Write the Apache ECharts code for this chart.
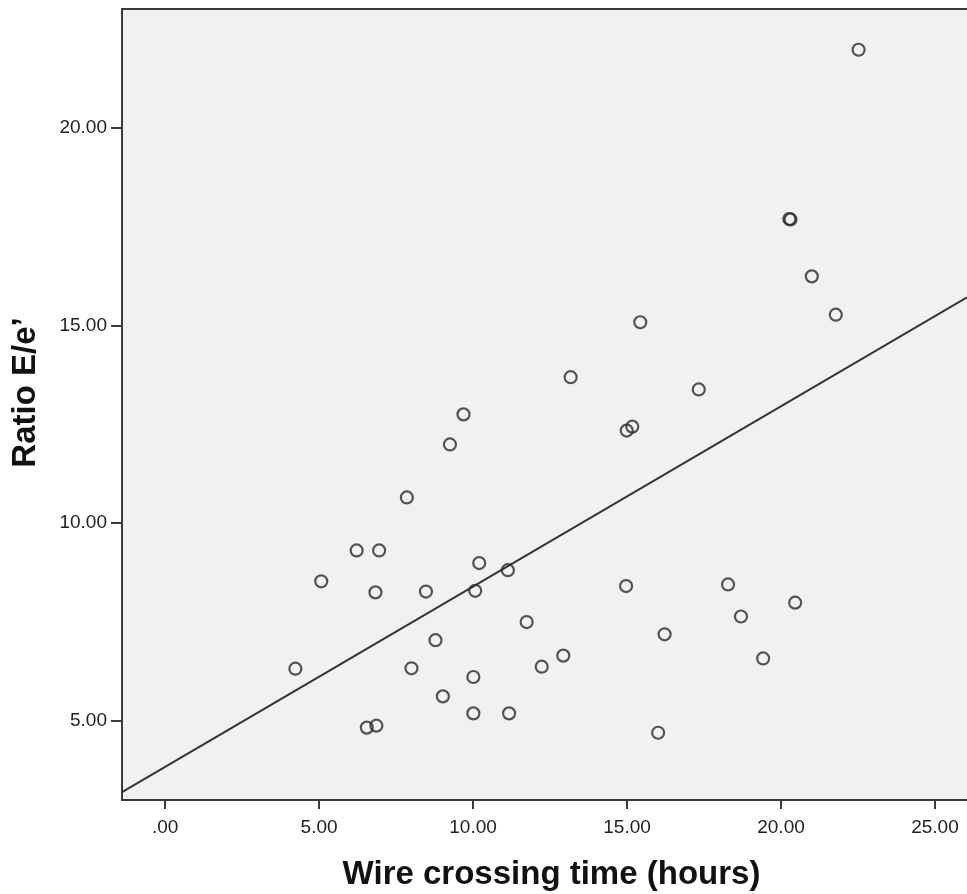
<!DOCTYPE html>
<html>
<head>
<meta charset="utf-8">
<script src="https://cdn.jsdelivr.net/npm/echarts@6/dist/echarts.min.js"></script>
<style>
html, body { margin: 0; padding: 0; background: #fff; }
#chart { width: 967px; height: 894px; }
</style>
</head>
<body>
<div id="chart"></div>
<script>
// wire crossing time (hours) vs ratio E/e'
const crossTime = [
    4.23, 5.07, 6.22, 6.95, 6.83, 6.55, 6.86, 7.85, 8.00, 8.47,
    8.78, 9.02, 9.25, 9.69, 10.01, 10.01, 10.07, 10.20, 11.13, 11.17,
    11.74, 12.23, 12.93, 13.17, 14.97, 14.99, 15.17, 15.43, 16.01, 16.22,
    17.33, 18.28, 18.70, 19.42, 20.27, 20.31, 20.46, 21.00, 21.78, 22.52
];
const ratioEe = [
    6.32, 8.53, 9.31, 9.31, 8.25, 4.83, 4.88, 10.65, 6.33, 8.27,
    7.04, 5.62, 11.99, 12.75, 6.11, 5.19, 8.29, 8.99, 8.81, 5.19,
    7.50, 6.37, 6.65, 13.69, 8.41, 12.34, 12.44, 15.08, 4.70, 7.19,
    13.38, 8.45, 7.64, 6.58, 17.69, 17.68, 7.99, 16.24, 15.27, 21.97
];
// fit line end points
const fitX = [-1.4, 26.04];
const fitY = [3.20, 15.71];

const xTicks = [0, 5, 10, 15, 20, 25];
const yTicks = [5, 10, 15, 20];

const myChart = echarts.init(document.getElementById('chart'));

const axisColor = '#3a3a3a';
const labelFont = 'Liberation Sans, Arial, sans-serif';

const option = {
    backgroundColor: '#fff',
    animation: false,
    grid: {
        left: 122,
        right: 0,
        top: 9,
        bottom: 94,
        containLabel: false,
        outerBoundsMode: 'none',
        show: true,
        backgroundColor: '#f1f1f1',
        borderWidth: 0
    },
    xAxis: [
        {
            type: 'value',
            min: -1.4,
            max: 26.04,
            name: 'Wire crossing time (hours)',
            nameLocation: 'middle',
            nameGap: 58,
            nameTextStyle: {
                fontFamily: labelFont,
                fontWeight: 'bold',
                fontSize: 33,
                color: '#111',
                padding: [0, 0, 0, 14]
            },
            axisLine: { show: true, onZero: false, lineStyle: { color: axisColor, width: 2 } },
            axisTick: { show: true, length: 9, customValues: xTicks, lineStyle: { color: axisColor, width: 2 } },
            axisLabel: {
                customValues: xTicks,
                margin: 18,
                fontFamily: labelFont,
                fontSize: 19,
                color: '#222',
                formatter: v => v === 0 ? '.00' : v.toFixed(2)
            },
            splitLine: { show: false }
        },
        {
            type: 'value',
            position: 'top',
            min: -1.4,
            max: 26.04,
            axisLine: { show: true, onZero: false, lineStyle: { color: axisColor, width: 2 } },
            axisTick: { show: false },
            axisLabel: { show: false },
            splitLine: { show: false }
        }
    ],
    yAxis: {
        type: 'value',
        min: 3,
        max: 23,
        name: 'Ratio E/e’',
        nameLocation: 'middle',
        nameGap: 80,
        nameRotate: 90,
        nameTextStyle: {
            fontFamily: labelFont,
            fontWeight: 'bold',
            fontSize: 33,
            color: '#111',
            padding: [0, 0, 0, 24]
        },
        axisLine: { show: true, onZero: false, lineStyle: { color: axisColor, width: 2 } },
        axisTick: { show: true, length: 11, customValues: yTicks, lineStyle: { color: axisColor, width: 2 } },
        axisLabel: {
            customValues: yTicks,
            margin: 15,
            fontFamily: labelFont,
            fontSize: 19,
            color: '#222',
            formatter: v => v.toFixed(2)
        },
        splitLine: { show: false }
    },
    series: [
        {
            type: 'line',
            data: fitX.map((x, i) => [x, fitY[i]]),
            showSymbol: false,
            symbol: 'none',
            lineStyle: { color: '#333', width: 2 },
            z: 2
        },
        {
            type: 'scatter',
            data: crossTime.map((x, i) => [x, ratioEe[i]]),
            symbol: 'circle',
            symbolSize: 12,
            itemStyle: {
                color: 'rgba(0,0,0,0)',
                borderColor: '#2a2a2a',
                borderWidth: 2.2
            },
            z: 3
        }
    ]
};

myChart.setOption(option);
</script>
</body>
</html>
